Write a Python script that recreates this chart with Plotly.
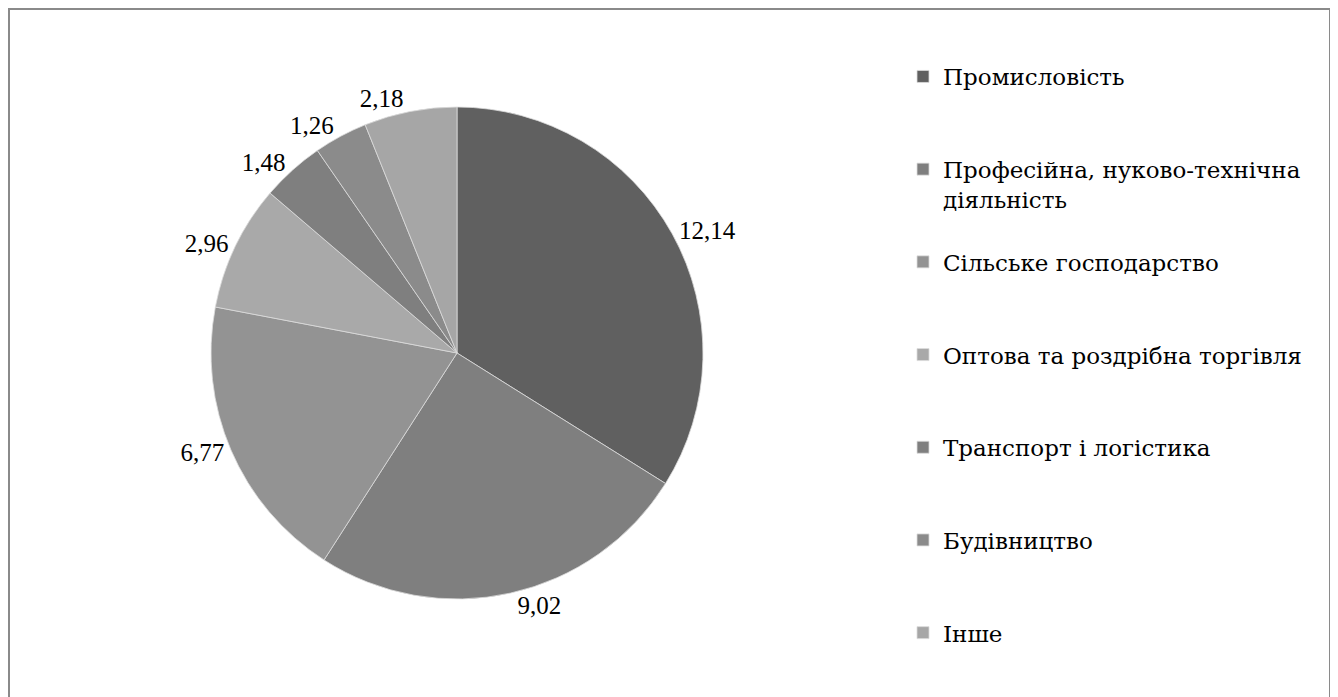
import plotly.graph_objects as go

# sectors of the economy, values as printed on the chart
sectors = [
    "Промисловість",
    "Професійна, нуково-технічна<br>діяльність",
    "Сільське господарство",
    "Оптова та роздрібна торгівля",
    "Транспорт і логістика",
    "Будівництво",
    "Інше",
]
values = [12.14, 9.02, 6.77, 2.96, 1.48, 1.26, 2.18]
value_labels = ["12,14", "9,02", "6,77", "2,96", "1,48", "1,26", "2,18"]

_GRAYS = ["#606060", "#7f7f7f", "#939393", "#a9a9a9", "#7f7f7f", "#8b8b8b", "#a6a6a6"]
_NUM_FONT = "Liberation Serif"   # digits only
_CYR_FONT = "DejaVu Serif"       # has Cyrillic glyphs

# pad each legend entry (except the last) so entries spread down the right side
legend_names = []
for i, s in enumerate(sectors):
    if i == len(sectors) - 1:
        legend_names.append(s)
    elif "<br>" in s:
        legend_names.append(s + "<br> ")
    else:
        legend_names.append(s + "<br> <br> ")

fig = go.Figure(go.Pie(
    labels=legend_names,
    values=values,
    text=value_labels,
    textinfo="text",
    textposition="outside",
    textfont=dict(family=_NUM_FONT, size=25, color="#000000"),
    sort=False,
    direction="clockwise",
    rotation=0,
    marker=dict(colors=_GRAYS, line=dict(color="#dcdcdc", width=0.8)),
    domain=dict(x=[203 / 1338, 695 / 1338], y=[1 - 591 / 697, 1 - 99 / 697]),
    hoverinfo="skip",
))

fig.update_layout(
    width=1338,
    height=697,
    margin=dict(l=0, r=0, t=0, b=0),
    paper_bgcolor="#ffffff",
    plot_bgcolor="#ffffff",
    font=dict(family=_NUM_FONT, size=22, color="#000000"),
    showlegend=True,
    legend=dict(
        x=895 / 1338, xanchor="left",
        y=1 - 47 / 697, yanchor="top",
        valign="top",
        font=dict(family=_CYR_FONT, size=23, color="#000000"),
        bgcolor="rgba(0,0,0,0)",
        borderwidth=0,
        traceorder="normal",
    ),
    # chart frame, open at the bottom like the source
    shapes=[dict(
        type="rect", xref="paper", yref="paper",
        x0=1 / 1338, x1=1322 / 1338, y0=-0.05, y1=1 - 1 / 697,
        line=dict(color="#8a8a8a", width=2), fillcolor="rgba(0,0,0,0)",
    )],
)

fig.write_html("out.html")
